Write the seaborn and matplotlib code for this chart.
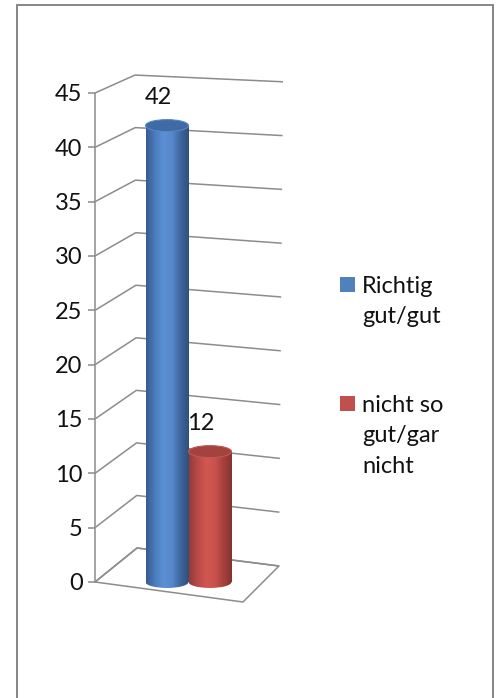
import numpy as np
import pandas as pd
import matplotlib
matplotlib.use("Agg")
import matplotlib.pyplot as plt
import seaborn as sns
from matplotlib.patches import Ellipse, Rectangle
from matplotlib.lines import Line2D
from matplotlib.colors import LinearSegmentedColormap

# --- data ---------------------------------------------------------------
series = ["Richtig\ngut/gut", "nicht so\ngut/gar\nnicht"]
values = [42, 12]
colors = ["#4f81bd", "#c0504d"]
y_ticks = [0, 5, 10, 15, 20, 25, 30, 35, 40, 45]

# shading used for the cylinder bodies and their caps
body_shades = [
    ["#365b8c", "#4a7bbd", "#5b8fd3", "#5689cc", "#3f689f", "#2f4f7c"],
    ["#943b38", "#b84a47", "#d25753", "#cb524e", "#a8413e", "#843331"],
]
cap_colors = ["#3e6aa5", "#a4423f"]
cap_edges = ["#5a86c2", "#bf5753"]

FS = 17

sns.set_theme(style="white")
plt.rcParams["font.family"] = ["Lato", "DejaVu Sans"]

W, H = 502, 698
fig = plt.figure(figsize=(W / 100, H / 100), dpi=100)

# axes placed in pixel terms: x in [40, 300], y in [60, 640] (top origin)
ax_left, ax_right, ax_top, ax_bottom = 40, 300, 60, 640
ax = fig.add_axes([ax_left / W, 1 - ax_bottom / H,
                   (ax_right - ax_left) / W, (ax_bottom - ax_top) / H])

df = pd.DataFrame({"series": series, "value": values})
sns.barplot(data=df, x="series", y="value", hue="series", palette=colors,
            width=1.0, legend=False, ax=ax, zorder=3, saturation=1)

# scale: one category step = 43 px, one value unit = 10.867 px
px_x = 43.0
px_y = 10.867
xlim = ((ax_left - 167) / px_x, (ax_right - 167) / px_x)
ylim = ((582 - ax_bottom) / px_y, (582 - ax_top) / px_y)

grid_kw = dict(color="#8c8c8c", lw=1.1, zorder=1, solid_capstyle="butt")

# walls: front axis -> back-left corner -> back-right edge, one per tick
x_front = (95 - 167) / px_x
for v in y_ticks:
    xb = (137 - 2 * v / 45 - 167) / px_x
    vb = (34 + 10.51 * v) / px_y
    xr = (279 + 4 * v / 45 - 167) / px_x
    vr = (16 + 10.76 * v) / px_y
    ax.plot([x_front, xb, xr], [v, vb, vr], **grid_kw)

# floor outline
fx = [x_front, (243 - 167) / px_x, (279 - 167) / px_x, (137 - 167) / px_x, x_front]
fy = [0, -20 / px_y, 16 / px_y, 34 / px_y, 0]
ax.plot(fx, fy, **grid_kw)

# cylinders: shaded body, rounded base and elliptical top cap
cap_h = 1.1
bars = [p for p in ax.patches if isinstance(p, Rectangle)]
for i, bar in enumerate(bars):
    x0 = bar.get_x()
    w = bar.get_width()
    h = bar.get_height()
    xc = x0 + w / 2
    cmap = LinearSegmentedColormap.from_list(f"shade{i}", body_shades[i])
    grad = np.linspace(0, 1, 256).reshape(1, -1)
    bar.set_facecolor("none")
    bar.set_edgecolor("none")
    ax.imshow(grad, extent=[x0, x0 + w, 0, h], aspect="auto", cmap=cmap,
              zorder=3 + i, interpolation="bicubic")
    base = Ellipse((xc, 0), w, cap_h, fill=False, edgecolor="none",
                   zorder=3 + i)
    ax.add_patch(base)
    img = ax.imshow(grad, extent=[x0, x0 + w, -cap_h / 2, 0.01], aspect="auto",
                    cmap=cmap, zorder=3 + i, interpolation="bicubic")
    img.set_clip_path(base)
    top = Ellipse((xc, h), w, cap_h, facecolor=cap_colors[i],
                  edgecolor=cap_edges[i], lw=0.8, zorder=3.5 + i)
    ax.add_patch(top)
    ax.annotate(f"{values[i]}", (xc, h), xytext=(-9, 28),
                textcoords="offset pixels", ha="center", va="center",
                fontsize=FS, color="#111111", zorder=6)

ax.set_xlim(*xlim)
ax.set_ylim(*ylim)
ax.set_xticks([])
ax.set_xlabel("")
ax.set_ylabel("")
for s in ["top", "right", "bottom"]:
    ax.spines[s].set_visible(False)
ax.spines["left"].set_position(("data", x_front))
ax.spines["left"].set_bounds(0, 45)
ax.spines["left"].set_color("#8c8c8c")
ax.spines["left"].set_linewidth(1.1)
ax.set_yticks(y_ticks)
ax.set_yticklabels([str(t) for t in y_ticks])
ax.tick_params(axis="y", left=True, length=5, width=1.1, color="#8c8c8c",
               pad=4, labelsize=FS, labelcolor="#111111")
ax.patch.set_alpha(0)

# legend drawn beside the plot, square aligned with first label line
leg_tops = [277, 396]
for i, lab in enumerate(series):
    fig.add_artist(Rectangle((340 / W, 1 - (leg_tops[i] + 15) / H), 15 / W, 15 / H,
                             transform=fig.transFigure, facecolor=colors[i],
                             edgecolor="none"))
    fig.text(362 / W, 1 - (leg_tops[i] - 1) / H, lab, ha="left", va="top",
             fontsize=FS, color="#111111", linespacing=1.55)

# chart frame
frame_kw = dict(transform=fig.transFigure, color="#868686", lw=1.4)
fl, fr, ft = 17 / W, 493 / W, 1 - 5 / H
fig.add_artist(Line2D([fl, fl], [0, ft], **frame_kw))
fig.add_artist(Line2D([fl, fr], [ft, ft], **frame_kw))
fig.add_artist(Line2D([fr, fr], [ft, 0], **frame_kw))

fig.savefig("out.png", dpi=100)
